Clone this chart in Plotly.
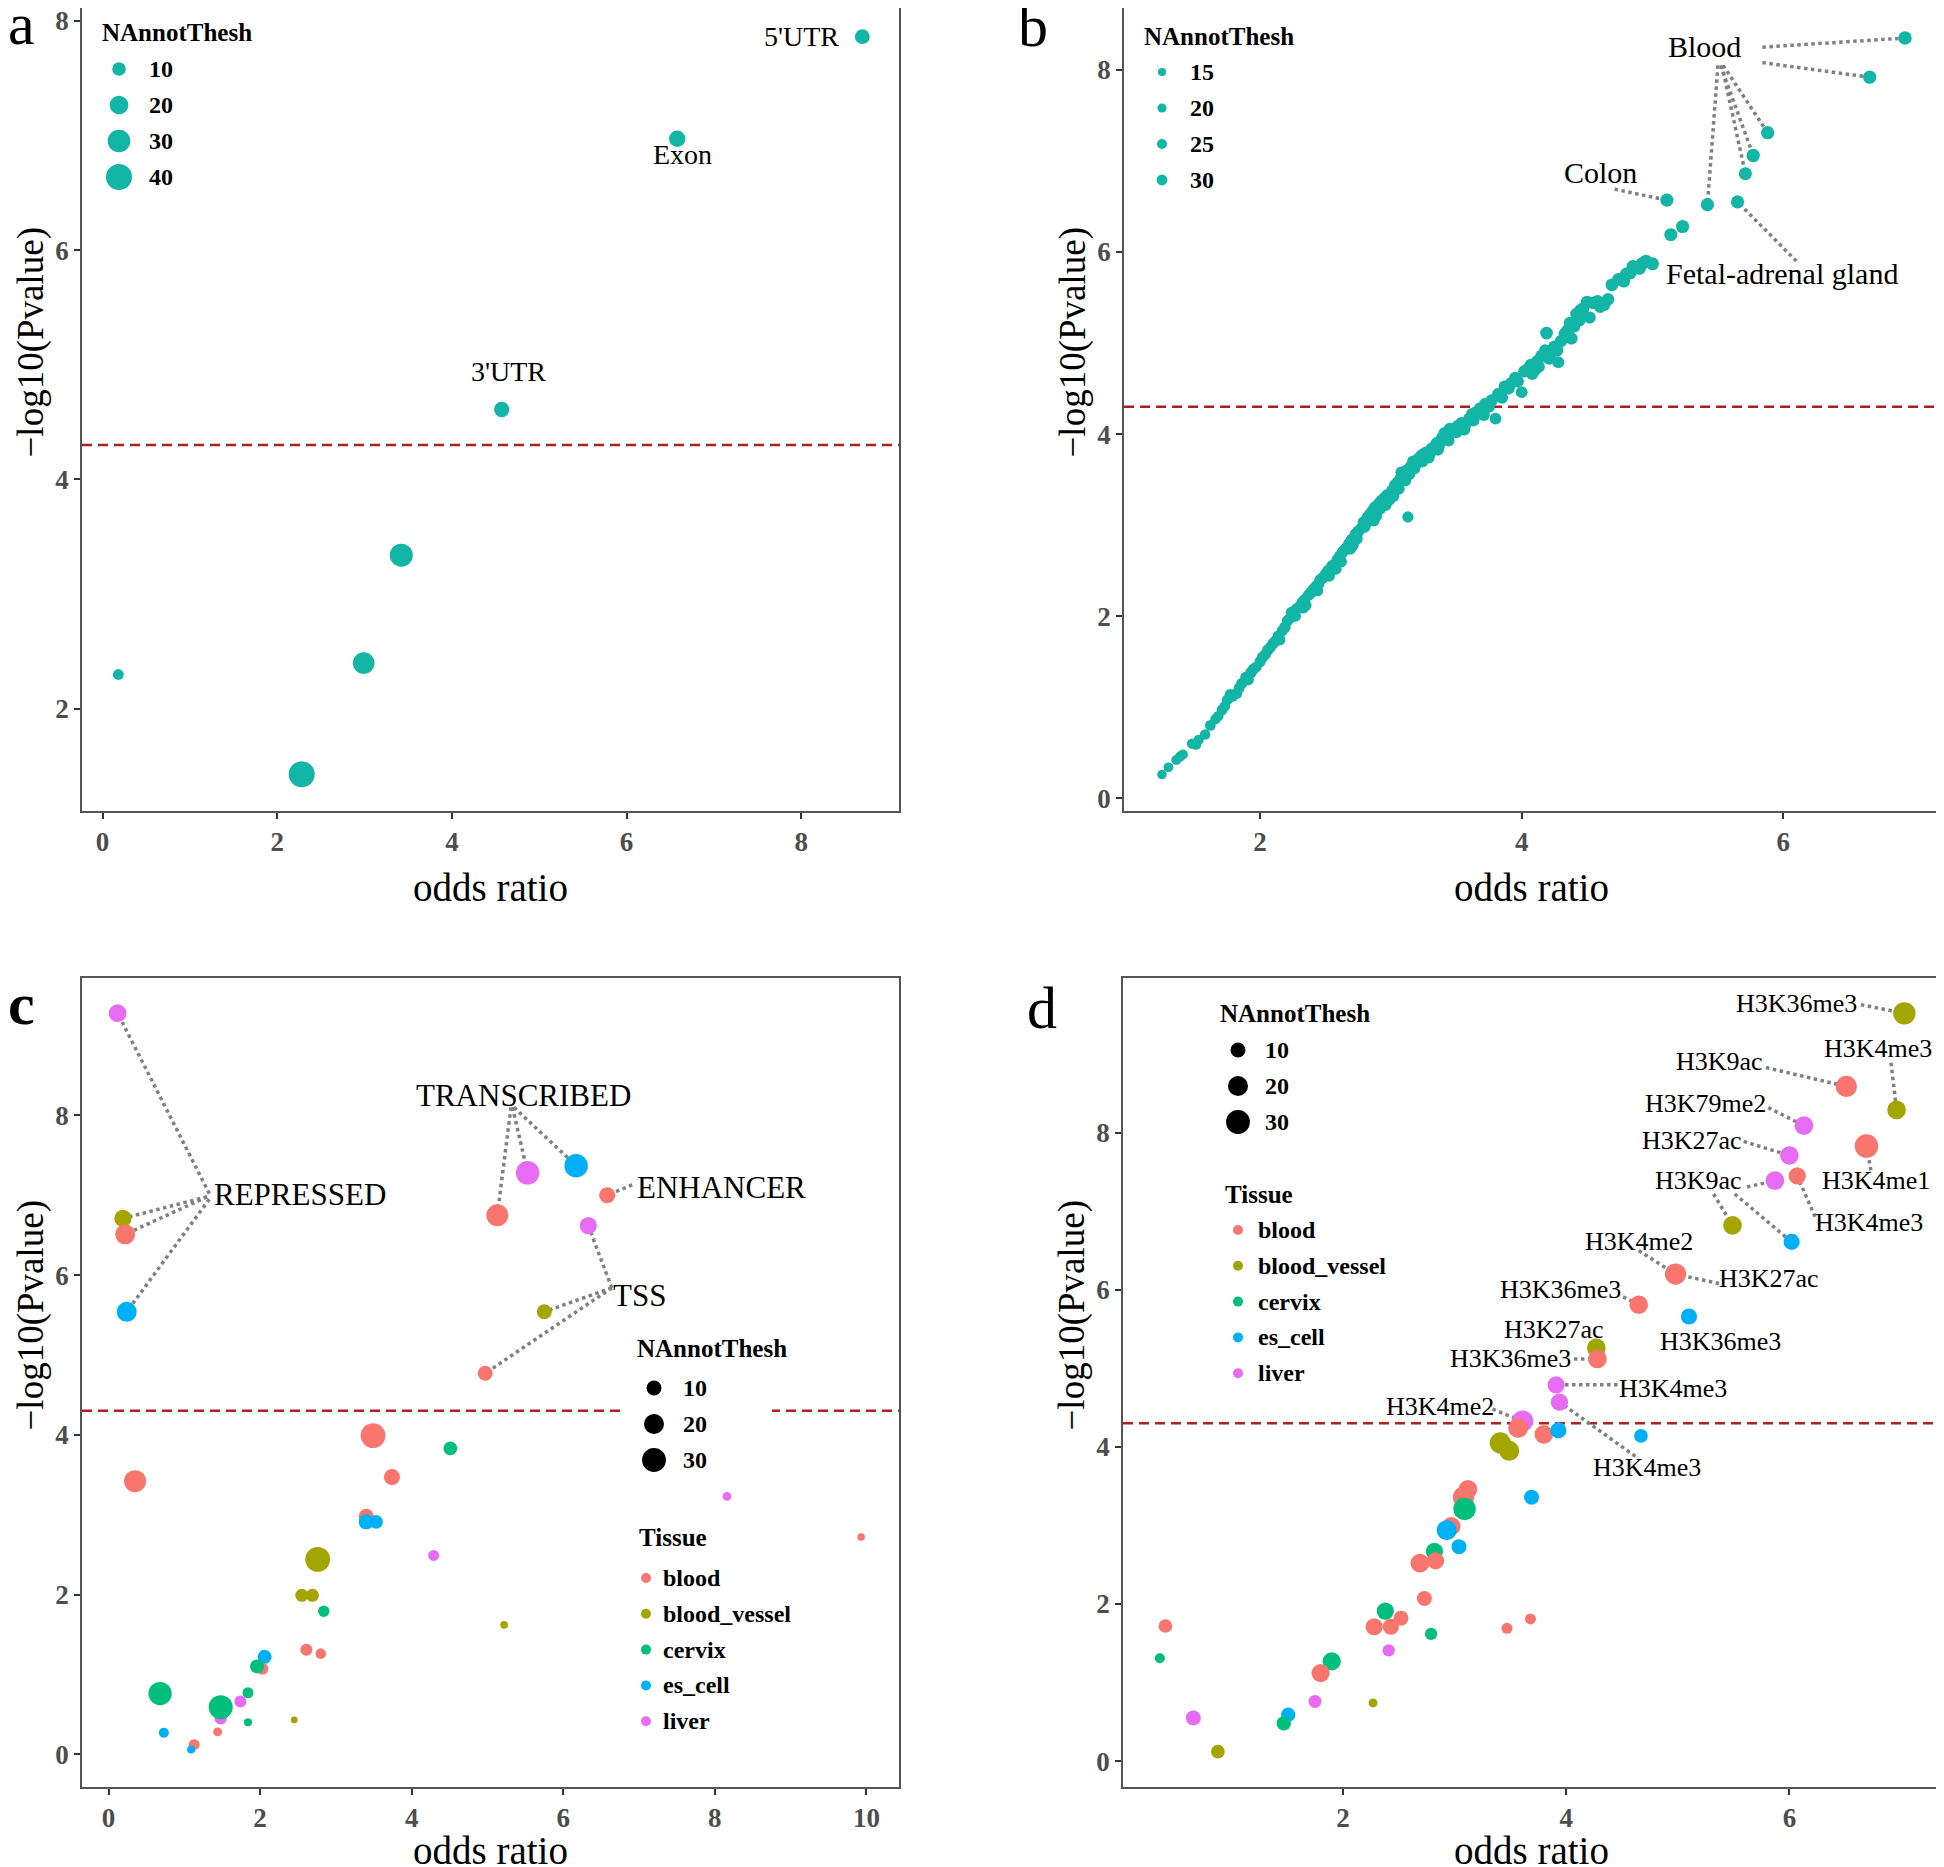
import plotly.graph_objects as go

W, H = 1944, 1867
PAGE_OFFSET = 8  # the page body margin shifts the figure by this many pixels
SERIF = "Liberation Serif"
TEAL = "#12B5A6"
TISSUE_COLORS = {"blood": "#F8766D", "blood_vessel": "#A3A500", "cervix": "#00BF7D",
                 "es_cell": "#00B0F6", "liver": "#E76BF3"}
THRESH = 4.30

# ---- panel a: genomic regions ----
a_or = [0.18, 2.28, 2.99, 3.42, 4.57, 6.58, 8.70]
a_logp = [2.30, 1.43, 2.40, 3.34, 4.61, 6.97, 7.86]
a_n = [6, 40, 27, 31, 13, 15, 12]
a_label_text = ["3'UTR", "Exon", "5'UTR"]
a_size_breaks = [10, 20, 30, 40]

# ---- panel b: tissues ----
b_or = [
    1.25, 1.30, 1.36, 1.39, 1.41, 1.48, 1.51, 1.53, 1.58, 1.62,
    1.66, 1.68, 1.71, 1.73, 1.75, 1.77, 1.79, 1.82, 1.84, 1.86,
    1.89, 1.91, 1.93, 1.95, 1.97, 2.00, 2.02, 2.04, 2.06, 2.08,
    2.10, 2.12, 2.14, 2.15, 2.17, 2.19, 2.21, 2.23, 2.24, 2.26,
    2.28, 2.30, 2.32, 2.34, 2.35, 2.37, 2.39, 2.41, 2.43, 2.44,
    2.46, 2.48, 2.50, 2.52, 2.53, 2.55, 2.57, 2.59, 2.61, 2.62,
    2.64, 2.66, 2.68, 2.70, 2.71, 2.73, 2.75, 2.77, 2.79, 2.80,
    2.82, 2.84, 2.86, 2.88, 2.89, 2.91, 2.93, 2.95, 2.97, 2.99,
    3.01, 3.03, 3.05, 3.07, 3.08, 3.10, 3.12, 3.13, 3.15, 3.17,
    3.19, 3.21, 3.23, 3.25, 3.27, 3.29, 3.31, 3.33, 3.35, 3.37,
    3.39, 3.41, 3.43, 3.45, 3.48, 3.51, 3.54, 3.57, 3.60, 3.62,
    3.65, 3.68, 3.70, 3.72, 3.75, 3.77, 3.80, 3.82, 3.85, 3.87,
    3.90, 3.92, 3.95, 3.97, 4.00, 4.02, 4.05, 4.07, 4.10, 4.12,
    4.15, 4.18, 4.19, 4.22, 4.25, 4.28, 4.30, 4.33, 4.35, 4.37,
    4.40, 4.42, 4.45, 4.47, 4.50, 4.52, 4.55, 4.58, 4.60, 4.63,
    4.66, 4.69, 4.74, 4.78, 4.80, 4.83, 4.85, 4.90, 4.92, 4.95,
    5.00, 5.14, 5.23, 5.11, 5.42, 5.65, 5.71, 5.77, 5.88, 6.66,
    6.93,
    2.27, 2.33, 2.45, 2.58, 2.63, 2.69, 2.74, 2.81, 2.87, 2.92,
    2.96, 3.02, 3.06, 3.11, 3.14, 3.18, 3.24, 3.30, 3.36, 3.44,
    3.50, 3.56, 3.63, 3.71, 4.08, 4.13, 4.21, 4.27, 4.38, 4.44]
b_logp = [
    0.26, 0.34, 0.42, 0.46, 0.48, 0.60, 0.59, 0.64, 0.70, 0.80,
    0.87, 0.90, 0.97, 1.01, 1.08, 1.14, 1.12, 1.15, 1.21, 1.26,
    1.33, 1.30, 1.38, 1.42, 1.44, 1.50, 1.55, 1.58, 1.63, 1.66,
    1.70, 1.73, 1.78, 1.74, 1.84, 1.88, 1.95, 1.98, 2.04, 2.02,
    2.08, 2.10, 2.15, 2.18, 2.12, 2.23, 2.26, 2.30, 2.33, 2.28,
    2.40, 2.42, 2.46, 2.50, 2.44, 2.55, 2.57, 2.62, 2.66, 2.60,
    2.72, 2.75, 2.80, 2.84, 2.78, 2.90, 2.93, 2.96, 3.03, 2.98,
    3.08, 3.12, 3.16, 3.20, 3.10, 3.24, 3.27, 3.30, 3.33, 3.28,
    3.38, 3.44, 3.47, 3.50, 3.58, 3.54, 3.60, 3.09, 3.64, 3.70,
    3.66, 3.73, 3.76, 3.78, 3.80, 3.74, 3.84, 3.86, 3.90, 3.88,
    3.96, 4.01, 3.98, 4.06, 4.04, 4.09, 4.12, 4.10, 4.17, 4.22,
    4.24, 4.28, 4.25, 4.33, 4.30, 4.37, 4.17, 4.44, 4.40, 4.52,
    4.50, 4.56, 4.62, 4.58, 4.46, 4.69, 4.72, 4.76, 4.70, 4.80,
    4.86, 4.92, 5.11, 4.88, 4.96, 4.79, 5.02, 5.10, 5.14, 5.22,
    5.18, 5.32, 5.36, 5.38, 5.45, 5.28, 5.44, 5.46, 5.40, 5.42,
    5.48, 5.64, 5.70, 5.68, 5.76, 5.77, 5.84, 5.82, 5.87, 5.90,
    5.87, 6.19, 6.28, 6.57, 6.52, 6.55, 6.86, 7.06, 7.31, 7.92,
    8.35,
    2.00, 2.09, 2.36, 2.52, 2.70, 2.74, 2.85, 3.02, 3.05, 3.18,
    3.22, 3.32, 3.40, 3.49, 3.56, 3.62, 3.70, 3.79, 3.83, 3.93,
    4.02, 4.05, 4.15, 4.21, 4.66, 4.74, 4.83, 4.92, 5.05, 5.25]
b_n = [
    15, 16, 17, 18, 17, 18, 19, 18, 19, 20,
    19, 20, 21, 20, 21, 20, 21, 22, 21, 22,
    21, 22, 23, 22, 21, 22, 23, 22, 23, 22,
    23, 22, 24, 23, 22, 24, 23, 22, 24, 23,
    24, 23, 22, 24, 23, 24, 25, 23, 24, 22,
    24, 25, 23, 24, 22, 25, 24, 23, 25, 24,
    25, 24, 23, 25, 24, 26, 25, 24, 25, 23,
    26, 25, 24, 26, 23, 25, 26, 24, 25, 24,
    26, 25, 24, 26, 25, 24, 26, 22, 25, 26,
    24, 25, 26, 27, 25, 24, 26, 25, 27, 26,
    25, 27, 26, 25, 27, 26, 28, 25, 27, 26,
    27, 26, 28, 27, 26, 28, 25, 27, 26, 28,
    27, 28, 26, 27, 25, 28, 27, 28, 26, 28,
    27, 28, 30, 27, 28, 26, 28, 29, 28, 29,
    28, 30, 29, 28, 30, 27, 29, 28, 29, 28,
    29, 30, 29, 30, 29, 30, 31, 30, 31, 30,
    31, 32, 32, 32, 33, 32, 32, 33, 33, 33,
    34,
    22, 22, 23, 24, 24, 24, 25, 25, 25, 24,
    26, 25, 26, 25, 26, 25, 26, 26, 27, 27,
    26, 27, 28, 27, 27, 28, 28, 29, 28, 29]
b_size_breaks = [15, 20, 25, 30]

# ---- panel c: chromatin states ----
c_or = [0.12, 0.19, 0.22, 0.24, 0.35, 5.13, 5.53, 6.17, 6.58, 6.33,
        5.75, 4.97, 3.49, 4.51, 3.74, 3.40, 3.40, 3.53, 4.29, 8.16,
        9.93, 2.76, 2.55, 2.69, 2.84, 5.22, 2.61, 2.80, 2.06, 2.03,
        1.96, 0.68, 1.84, 1.74, 1.48, 1.48, 1.84, 2.45, 0.73, 1.44,
        1.13, 1.09]
c_logp = [9.28, 6.71, 6.51, 5.54, 3.42, 6.75, 7.28, 7.37, 7.00, 6.62,
          5.54, 4.77, 3.99, 3.83, 3.47, 2.98, 2.91, 2.91, 2.49, 3.23,
          2.72, 2.44, 1.99, 1.99, 1.79, 1.62, 1.31, 1.26, 1.22, 1.07,
          1.10, 0.76, 0.77, 0.66, 0.45, 0.59, 0.40, 0.43, 0.27, 0.28,
          0.12, 0.06]
c_n = [15, 14, 20, 20, 25, 25, 29, 29, 12, 14,
       10, 10, 33, 8, 12, 10, 10, 8, 4.5, 2.3,
       1.5, 33, 7, 7, 5, 1.5, 5.7, 4, 8.4, 5.7,
       8.4, 28.6, 4.5, 5.7, 6, 30.5, 1.8, 1.0, 3.5, 2.5,
       4.5, 1.8]
c_tissue = ["liver", "blood_vessel", "blood", "es_cell", "blood", "blood", "liver", "es_cell", "blood", "liver",
            "blood_vessel", "blood", "blood", "cervix", "blood", "blood", "es_cell", "es_cell", "liver", "liver",
            "blood", "blood_vessel", "blood_vessel", "blood_vessel", "cervix", "blood_vessel", "blood", "blood", "es_cell", "blood",
            "cervix", "cervix", "cervix", "liver", "liver", "cervix", "cervix", "blood_vessel", "es_cell", "blood",
            "blood", "es_cell"]
cd_size_breaks = [10, 20, 30]
tissues = ["blood", "blood_vessel", "cervix", "es_cell", "liver"]

# ---- panel d: histone marks ----
d_or = [7.03, 6.51, 6.96, 6.13, 6.69, 6.00, 6.07, 5.87, 5.49, 6.02,
        4.98, 4.65, 5.10, 4.27, 4.28, 3.91, 3.94, 3.61, 3.57, 3.80,
        3.93, 4.67, 3.41, 3.49, 3.69, 3.12, 3.08, 3.09, 2.97, 2.93,
        3.04, 2.82, 2.69, 2.83, 2.73, 2.38, 2.52, 2.28, 2.43, 2.79,
        2.41, 1.90, 1.80, 0.41, 0.36, 3.47, 3.68, 2.27, 1.75, 1.51,
        1.47, 0.66, 0.88]
d_logp = [9.52, 8.59, 8.29, 8.09, 7.83, 7.71, 7.45, 7.39, 6.82, 6.61,
          6.20, 5.81, 5.66, 5.26, 5.12, 4.79, 4.57, 4.33, 4.24, 4.16,
          4.21, 4.14, 4.05, 3.95, 3.36, 3.46, 3.36, 3.21, 2.99, 2.94,
          2.73, 2.67, 2.52, 2.55, 2.07, 1.91, 1.82, 1.71, 1.71, 1.62,
          1.41, 1.27, 1.12, 1.72, 1.31, 1.69, 1.81, 0.74, 0.76, 0.59,
          0.48, 0.55, 0.12]
d_n = [26, 23, 17, 17, 29, 17, 14, 17, 17, 12,
       23, 17, 12, 17, 17, 14, 14, 23, 20, 17,
       12, 8, 23, 20, 10, 17, 23, 26, 17, 20,
       10, 14, 17, 14, 10, 14, 10, 14, 12, 6,
       6, 16, 16, 8, 3.5, 4.5, 4.5, 2.5, 7, 9,
       9, 10, 8]
d_tissue = ["blood_vessel", "blood", "blood_vessel", "liver", "blood", "liver", "blood", "liver", "blood_vessel", "es_cell",
            "blood", "blood", "es_cell", "blood_vessel", "blood", "liver", "liver", "liver", "blood", "blood",
            "es_cell", "es_cell", "blood_vessel", "blood_vessel", "es_cell", "blood", "blood", "cervix", "blood", "es_cell",
            "es_cell", "cervix", "blood", "blood", "blood", "cervix", "blood", "blood", "blood", "cervix",
            "liver", "cervix", "blood", "blood", "cervix", "blood", "blood", "blood_vessel", "liver", "es_cell",
            "cervix", "liver", "blood_vessel"]


def size_a(n):
    return 1.2 + 3.92 * n ** 0.5


def size_b(n):
    return 1.8 + 2.0 * n ** 0.5


def size_cd(n):
    return 2.9 + 3.82 * n ** 0.5


def px(x):
    return (x - PAGE_OFFSET) / W


def py(y):
    return 1 - (y - PAGE_OFFSET) / H


def clamp(v):
    return min(max(v, 0.0), 1.0)


fig = go.Figure()
annotations = []
shapes = []

# axes: pixel boxes (left, top, right, bottom) and data ranges
panels = {
    "a": dict(x="x", y="y", box=(82, 8, 899, 811), xr=[-0.236, 9.12], yr=[1.11, 8.11]),
    "b": dict(x="x2", y="y2", box=(1124, 8, 1939, 811), xr=[0.96, 7.19], yr=[-0.14, 8.68]),
    "c": dict(x="x3", y="y3", box=(82, 978, 899, 1787), xr=[-0.35, 10.43], yr=[-0.41, 9.72]),
    "d": dict(x="x4", y="y4", box=(1123, 978, 1939, 1787), xr=[0.03, 7.34], yr=[-0.33, 9.97]),
}

axis_style = dict(showline=True, mirror=True, linecolor="#555555", linewidth=1.6,
                  ticks="outside", ticklen=6, tickwidth=1.6, tickcolor="#333333",
                  showgrid=False, zeroline=False, dtick=2, tick0=0, automargin=False,
                  ticklabeloverflow="allow",
                  tickfont=dict(family=SERIF, size=27, color="#4d4d4d", weight="bold"))

layout_axes = {}
for key, p in panels.items():
    l, t, r, b = p["box"]
    xname = "xaxis" + p["x"][1:]
    yname = "yaxis" + p["y"][1:]
    layout_axes[xname] = dict(domain=[clamp(px(l)), clamp(px(r))], range=p["xr"], anchor=p["y"], **axis_style)
    layout_axes[yname] = dict(domain=[clamp(py(b)), clamp(py(t))], range=p["yr"], anchor=p["x"], **axis_style)
    # significance threshold
    shapes.append(dict(type="line", xref=p["x"] + " domain", yref=p["y"], x0=0, x1=1,
                       y0=THRESH, y1=THRESH, layer="below",
                       line=dict(color="#B21F1F", width=2.5, dash="10px,6px")))
    # axis titles
    annotations.append(dict(x=px((l + r) / 2), y=py(b + 76 if key in "ab" else b + 63),
                            xref="paper", yref="paper", text="odds ratio", showarrow=False,
                            xanchor="center", yanchor="middle",
                            font=dict(family=SERIF, size=39, color="black")))
    annotations.append(dict(x=px(l - 52), y=py((t + b) / 2 - 67), xref="paper", yref="paper",
                            text="\u2212log10(Pvalue)", showarrow=False, textangle=-90,
                            xanchor="center", yanchor="middle",
                            font=dict(family=SERIF, size=37, color="black")))


def segment(xref, yref, x0, y0, x1, y1):
    fig.add_trace(go.Scatter(x=[x0, x1], y=[y0, y1], xaxis=xref, yaxis=yref, mode="lines",
                             line=dict(color="#808080", width=3.5, dash="dot"),
                             hoverinfo="skip", showlegend=False))


def label(xref, yref, x, y, s, size, anchor="center"):
    annotations.append(dict(x=x, y=y, xref=xref, yref=yref, text=s, showarrow=False,
                            xanchor=anchor, yanchor="middle",
                            font=dict(family=SERIF, size=size, color="black")))


# ---- segments (drawn under points) ----
b_segments = [(5.84, 8.25, 6.93), (5.84, 8.08, 6.66), (5.50, 8.05, 5.42), (5.53, 8.05, 5.71),
              (5.52, 8.05, 5.77), (5.54, 8.05, 5.88), (4.71, 6.69, 5.11), (6.10, 5.90, 5.65)]
for lx, ly, ox in b_segments:
    i = b_or.index(ox)
    segment("x2", "y2", lx, ly, b_or[i], b_logp[i])

c_segments = [(1.33, 7.02, 0.12), (1.30, 6.98, 0.19), (1.30, 6.98, 0.22), (1.33, 6.95, 0.24),
              (5.31, 8.10, 5.13), (5.33, 8.10, 5.53), (5.35, 8.10, 6.17), (6.91, 7.13, 6.58),
              (6.64, 5.84, 6.33), (6.64, 5.84, 5.75), (6.64, 5.84, 4.97)]
for lx, ly, ox in c_segments:
    i = c_or.index(ox)
    segment("x3", "y3", lx, ly, c_or[i], c_logp[i])

d_segments = [(6.64, 9.63, 7.03), (6.91, 8.89, 6.96), (5.79, 8.83, 6.51), (5.81, 8.32, 6.13),
              (5.59, 7.89, 6.00), (6.73, 7.52, 6.69), (5.62, 7.31, 5.87), (5.32, 7.22, 5.49),
              (5.51, 7.22, 6.02), (6.23, 6.93, 6.07), (4.65, 6.50, 4.98), (5.37, 6.08, 4.98),
              (4.51, 5.91, 4.65), (4.07, 5.12, 4.28), (4.46, 4.79, 3.91), (3.34, 4.48, 3.61),
              (4.62, 3.88, 3.94)]
for lx, ly, ox in d_segments:
    i = d_or.index(ox)
    segment("x4", "y4", lx, ly, d_or[i], d_logp[i])

# ---- points ----
fig.add_trace(go.Scatter(x=a_or, y=a_logp, xaxis="x", yaxis="y", mode="markers",
                         marker=dict(color=TEAL, size=[size_a(n) for n in a_n], opacity=1,
                                     line=dict(width=0)),
                         showlegend=False))
fig.add_trace(go.Scatter(x=b_or, y=b_logp, xaxis="x2", yaxis="y2", mode="markers",
                         marker=dict(color=TEAL, size=[size_b(n) for n in b_n], opacity=1,
                                     line=dict(width=0)),
                         showlegend=False))
fig.add_trace(go.Scatter(x=c_or, y=c_logp, xaxis="x3", yaxis="y3", mode="markers",
                         marker=dict(color=[TISSUE_COLORS[t] for t in c_tissue],
                                     size=[size_cd(n) for n in c_n], line=dict(width=0), opacity=1),
                         showlegend=False))
fig.add_trace(go.Scatter(x=d_or, y=d_logp, xaxis="x4", yaxis="y4", mode="markers",
                         marker=dict(color=[TISSUE_COLORS[t] for t in d_tissue],
                                     size=[size_cd(n) for n in d_n], line=dict(width=0), opacity=1),
                         showlegend=False))

# ---- text labels ----
label("x", "y", 4.65, 4.94, a_label_text[0], 28)
label("x", "y", 6.64, 6.83, a_label_text[1], 28)
label("x", "y", 8.00, 7.86, a_label_text[2], 28)

label("x2", "y2", 5.40, 8.26, "Blood", 30)
label("x2", "y2", 4.60, 6.87, "Colon", 30)
label("x2", "y2", 5.99, 5.76, "Fetal-adrenal gland", 30)

label("x3", "y3", 1.37, 7.01, "REPRESSED", 31, "left")
label("x3", "y3", 5.47, 8.25, "TRANSCRIBED", 31)
label("x3", "y3", 6.94, 7.10, "ENHANCER", 31, "left")
label("x3", "y3", 6.63, 5.75, "TSS", 31, "left")

d_labels = [("H3K36me3", 6.62, 9.64, "right"), ("H3K4me3", 6.79, 9.07, "center"),
            ("H3K9ac", 5.78, 8.91, "right"), ("H3K79me2", 5.81, 8.37, "right"),
            ("H3K27ac", 5.59, 7.90, "right"), ("H3K4me1", 6.78, 7.39, "center"),
            ("H3K9ac", 5.59, 7.39, "right"), ("H3K4me3", 6.71, 6.86, "center"),
            ("H3K4me2", 4.65, 6.61, "center"), ("H3K27ac", 5.82, 6.14, "center"),
            ("H3K36me3", 4.51, 6.00, "right"), ("H3K36me3", 5.38, 5.34, "center"),
            ("H3K27ac", 3.89, 5.49, "center"), ("H3K36me3", 4.06, 5.12, "right"),
            ("H3K4me3", 4.96, 4.75, "center"), ("H3K4me2", 3.37, 4.52, "right"),
            ("H3K4me3", 4.72, 3.74, "center")]
for s, lx, ly, anc in d_labels:
    label("x4", "y4", lx, ly, s, 26, anc)

# ---- legends (drawn by hand, ggplot style) ----
# white legend background in panel c hides the threshold line
shapes.append(dict(type="rect", xref="paper", yref="paper", x0=px(626), x1=px(772),
                   y0=py(1482), y1=py(1322), fillcolor="white", line=dict(width=0), layer="above"))


def legend_title(x, y, s):
    annotations.append(dict(x=px(x), y=py(y), xref="paper", yref="paper", text=s, showarrow=False,
                            xanchor="left", yanchor="middle",
                            font=dict(family=SERIF, size=25, color="black", weight="bold")))


def legend_item(cx, cy, d, color, tx, s):
    shapes.append(dict(type="circle", xref="paper", yref="paper", xsizemode="pixel", ysizemode="pixel",
                       xanchor=px(cx), yanchor=py(cy), x0=-d / 2, x1=d / 2, y0=-d / 2, y1=d / 2,
                       fillcolor=color, line=dict(width=0), layer="above"))
    annotations.append(dict(x=px(tx), y=py(cy), xref="paper", yref="paper", text=s, showarrow=False,
                            xanchor="left", yanchor="middle",
                            font=dict(family=SERIF, size=24, color="black", weight="bold")))


legend_title(100, 33, "NAnnotThesh")
for k, n in enumerate(a_size_breaks):
    legend_item(119, 69 + 36 * k, size_a(n), TEAL, 147, str(n))

legend_title(1142, 36, "NAnnotThesh")
for k, n in enumerate(b_size_breaks):
    legend_item(1162, 72 + 36 * k, size_b(n) * 0.85, TEAL, 1188, str(n))

legend_title(635, 1348, "NAnnotThesh")
for k, n in enumerate(cd_size_breaks):
    legend_item(654, 1388 + 36 * k, size_cd(n), "black", 681, str(n))
legend_title(637, 1537, "Tissue")
for k, t in enumerate(tissues):
    legend_item(646, 1578 + 35.8 * k, 10, TISSUE_COLORS[t], 661, t)

legend_title(1218, 1013, "NAnnotThesh")
for k, n in enumerate(cd_size_breaks):
    legend_item(1238, 1050 + 36 * k, size_cd(n), "black", 1263, str(n))
legend_title(1223, 1194, "Tissue")
for k, t in enumerate(tissues):
    legend_item(1238, 1230 + 35.8 * k, 10, TISSUE_COLORS[t], 1256, t)

# ---- panel letters ----
for s, x, y, bold in [("a", 21, 24, False), ("b", 1033, 26, False), ("c", 21, 1004, True), ("d", 1042, 1008, False)]:
    annotations.append(dict(x=px(x), y=py(y), xref="paper", yref="paper", text=s, showarrow=False,
                            xanchor="center", yanchor="middle",
                            font=dict(family=SERIF, size=60, color="black",
                                      weight="bold" if bold else "normal")))

fig.update_layout(
    template="none",
    width=W, height=H,
    margin=dict(l=0, r=0, t=0, b=0, pad=0, autoexpand=False),
    paper_bgcolor="white", plot_bgcolor="white",
    showlegend=False,
    annotations=annotations,
    shapes=shapes,
    **layout_axes,
)

fig.write_html("out.html")
